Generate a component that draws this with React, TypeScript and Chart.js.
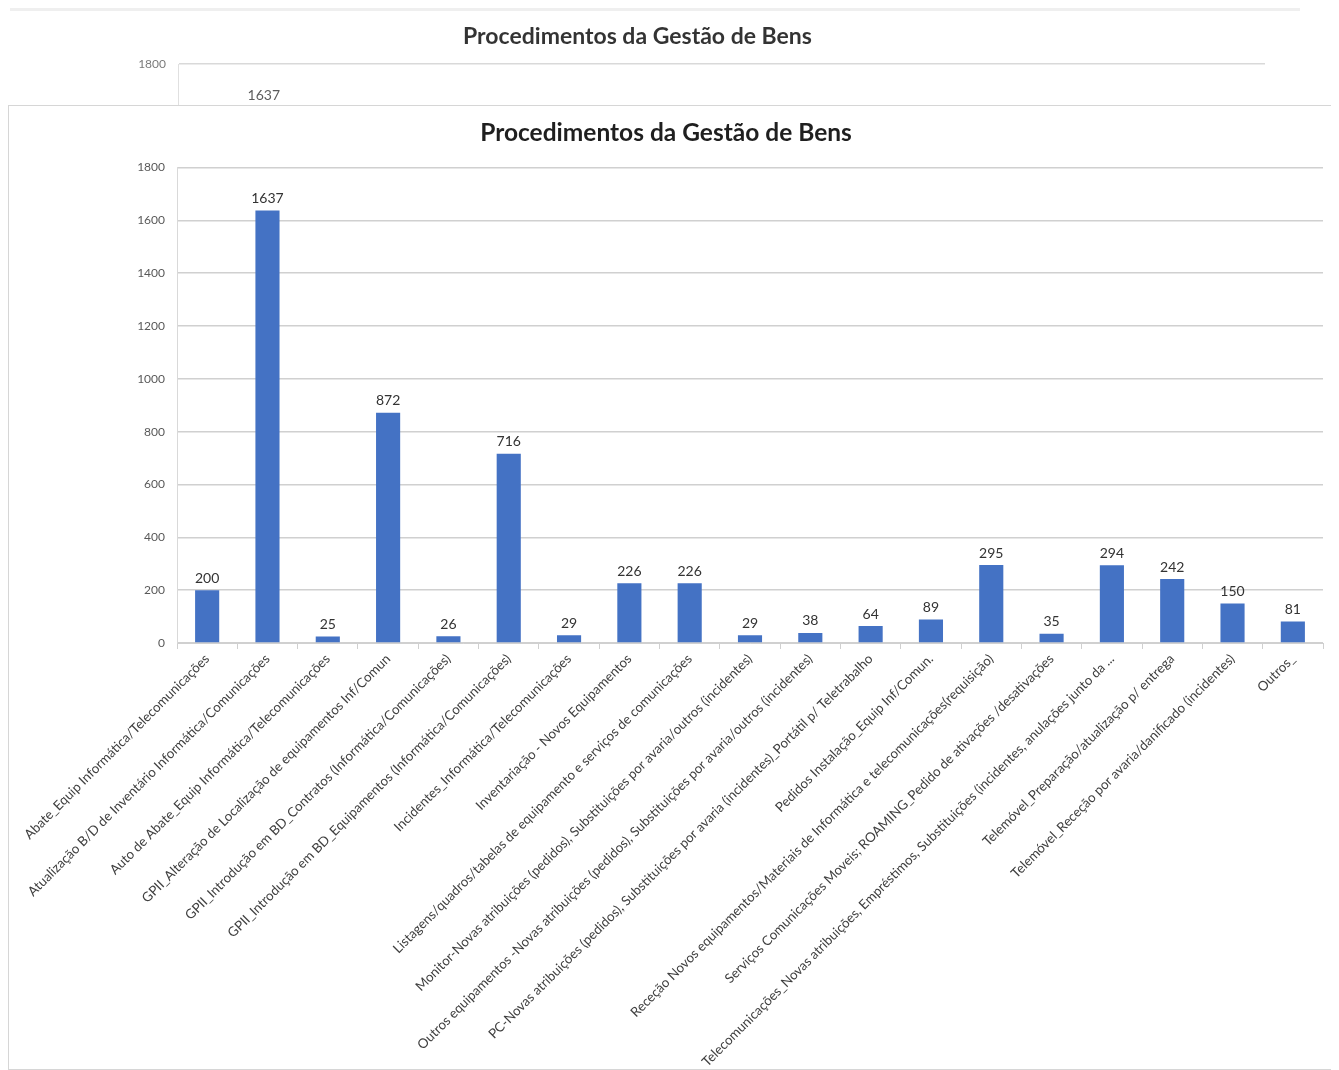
import React, { useEffect, useRef } from "react";
import { Chart, registerables } from "chart.js";

Chart.register(...registerables);

const chartTitle = "Procedimentos da Gestão de Bens";

const categories: string[] = [
  "Abate_Equip Informática/Telecomunicações",
  "Atualização B/D de Inventário Informática/Comunicações",
  "Auto de Abate_Equip Informática/Telecomunicações",
  "GPII_Alteração de Localização de equipamentos Inf/Comun",
  "GPII_Introdução em BD_Contratos (Informática/Comunicações)",
  "GPII_Introdução em BD_Equipamentos (Informática/Comunicações)",
  "Incidentes_Informática/Telecomunicações",
  "Inventariação - Novos Equipamentos",
  "Listagens/quadros/tabelas de equipamento e serviços de comunicações",
  "Monitor-Novas atribuições (pedidos), Substituições por avaria/outros (incidentes)",
  "Outros equipamentos -Novas atribuições (pedidos), Substituições por avaria/outros (incidentes)",
  "PC-Novas atribuições (pedidos), Substituições por avaria (incidentes)_Portátil p/ Teletrabalho",
  "Pedidos Instalação_Equip Inf/Comun.",
  "Receção Novos equipamentos/Materiais de Informática e telecomunicações(requisição)",
  "Serviços Comunicações Moveis; ROAMING_Pedido de ativações /desativações",
  "Telecomunicações_Novas atribuições, Empréstimos, Substituições (incidentes, anulações junto da ...",
  "Telemóvel_Preparação/atualização p/ entrega",
  "Telemóvel_Receção por avaria/danificado (incidentes)",
  "Outros_",
];

const values: number[] = [
  200, 1637, 25, 872, 26, 716, 29, 226, 226, 29, 38, 64, 89, 295, 35, 294, 242, 150, 81,
];

const yMin = 0;
const yMax = 1800;
const yStep = 200;

const FONT = "Lato, 'Open Sans', 'DejaVu Sans', sans-serif";

const valueLabels = {
  id: "valueLabels",
  afterDatasetsDraw(chart: any) {
    const ctx = chart.ctx;
    const meta = chart.getDatasetMeta(0);
    ctx.save();
    ctx.font = `14px ${FONT}`;
    ctx.fillStyle = "#333333";
    ctx.textAlign = "center";
    ctx.textBaseline = "bottom";
    meta.data.forEach((bar: any, i: number) => {
      const v = chart.data.datasets[0].data[i];
      ctx.fillText(String(v), bar.x, bar.y - 5);
    });
    ctx.restore();
  },
};

function BarChart({ width, height, ghost }: { width: number; height: number; ghost?: boolean }) {
  const ref = useRef<HTMLCanvasElement | null>(null);
  useEffect(() => {
    if (!ref.current) return;
    const chart = new Chart(ref.current, {
      type: "bar",
      data: {
        labels: categories,
        datasets: [
          {
            data: values,
            backgroundColor: "#4472C4",
            borderWidth: 0,
            barPercentage: 0.4,
            categoryPercentage: 1,
          },
        ],
      },
      options: {
        responsive: false,
        animation: false,
        layout: { padding: { left: 0, right: 15, top: 0, bottom: 0 } },
        plugins: {
          legend: { display: false },
          tooltip: { enabled: false },
          title: {
            display: true,
            text: chartTitle,
            color: ghost ? "#000000" : "#1f1f1f",
            font: { family: FONT, size: ghost ? 23 : 24.5, weight: "bold", lineHeight: 1.0 },
            padding: ghost ? { top: 21, bottom: 16 } : { top: 15, bottom: 22 },
          },
        },
        scales: {
          x: {
            grid: {
              display: true,
              drawOnChartArea: false,
              drawTicks: true,
              tickLength: 6,
              color: "#d0d0d0",
              offset: true,
            },
            border: { display: true, color: "#d0d0d0" },
            ticks: {
              autoSkip: false,
              minRotation: 45,
              maxRotation: 45,
              color: "#404040",
              font: { family: FONT, size: 13.3 },
              padding: 2,
            },
            afterFit(scale: any) {
              scale.height = height - 537;
            },
          },
          y: {
            min: yMin,
            max: yMax,
            ticks: {
              stepSize: yStep,
              color: "#595959",
              font: { family: FONT, size: 12 },
              padding: 12,
              callback: (v: any) => String(v),
            },
            grid: { color: "#d0d0d0", lineWidth: 1.5, drawTicks: false },
            border: { display: true, color: "#d9d9d9" },
            afterFit(scale: any) {
              scale.width = 168;
            },
          },
        },
      },
      plugins: [valueLabels],
    } as any);
    return () => chart.destroy();
  }, [width, height, ghost]);
  return <canvas ref={ref} width={width} height={height} style={{ display: "block" }} />;
}

export default function App() {
  return (
    <div style={{ position: "relative", width: 1331, height: 1062 }}>
      <div
        style={{
          position: "absolute",
          left: 2,
          top: 0,
          width: 1290,
          height: 97,
          overflow: "hidden",
          borderTop: "3px solid #ececec",
          opacity: 0.8,
          filter: "blur(0.5px)",
        }}
      >
        <div style={{ position: "absolute", left: 0, top: -7 }}>
          <BarChart width={1270} height={963} ghost />
        </div>
      </div>
      <div
        style={{
          position: "absolute",
          left: 0,
          top: 97,
          width: 1329,
          height: 963,
          border: "1px solid #d6d6d6",
          background: "#fff",
        }}
      >
        <BarChart width={1329} height={963} />
      </div>
    </div>
  );
}
